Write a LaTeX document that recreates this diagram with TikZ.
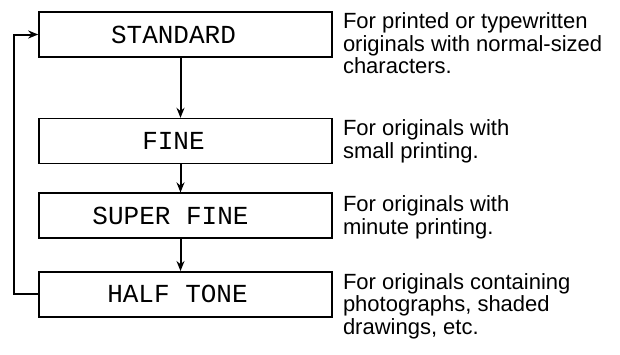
\documentclass[tikz,border=0pt]{standalone}
\usepackage{fontspec}
\setmainfont{Liberation Sans}
\setmonofont{Liberation Mono}
\usetikzlibrary{arrows.meta, positioning}

\begin{document}
\begin{tikzpicture}[
    x=1pt, y=1pt,
    node distance=28pt,
    mode/.style={rectangle, draw=black, line width=1.6pt, minimum width=293pt, minimum height=45pt, inner sep=0pt, font=\fontsize{26}{28}\selectfont\ttfamily},
    note/.style={anchor=north west, align=left, inner sep=0pt, font=\fontsize{22}{22.8}\selectfont},
    arrow/.style={line width=2pt, ->, >={Stealth[length=10pt, width=8pt]}, draw=black}
]
    \useasboundingbox (0,0) rectangle (620,-354);

    % Modes
    \node (std) [mode] at (185.5,-34.5) {\hspace*{-24pt}STANDARD};
    \node (fine) [mode, below=60pt of std] {\hspace*{-24pt}FINE};
    \node (sfine) [mode, below=of fine] {\hspace*{-30pt}SUPER FINE};
    \node (half) [mode, below=32pt of sfine] {\hspace*{-16pt}HALF TONE};

    % Notes
    \node (stdnote) [note] at ([xshift=10pt, yshift=-1pt]std.north east) {For printed or typewritten\\originals with normal-sized\\characters.};
    \node (finenote) [note] at ([xshift=10pt, yshift=-2pt]fine.north east) {For originals with\\small printing.};
    \node (sfinenote) [note] at ([xshift=10pt, yshift=-3pt]sfine.north east) {For originals with\\minute printing.};
    \node (halfnote) [note] at ([xshift=10pt, yshift=-2pt]half.north east) {For originals containing\\photographs, shaded\\drawings, etc.};

    % Flows
    \draw [arrow] ([xshift=-5pt]std.south) -- ([xshift=-5pt]fine.north);
    \draw [arrow] ([xshift=-5pt]fine.south) -- ([xshift=-5pt]sfine.north);
    \draw [arrow] ([xshift=-5pt]sfine.south) -- ([xshift=-5pt]half.north);
    \draw [arrow] (half.west) -- ++(-24,0) |- (std.west);

\end{tikzpicture}
\end{document}
